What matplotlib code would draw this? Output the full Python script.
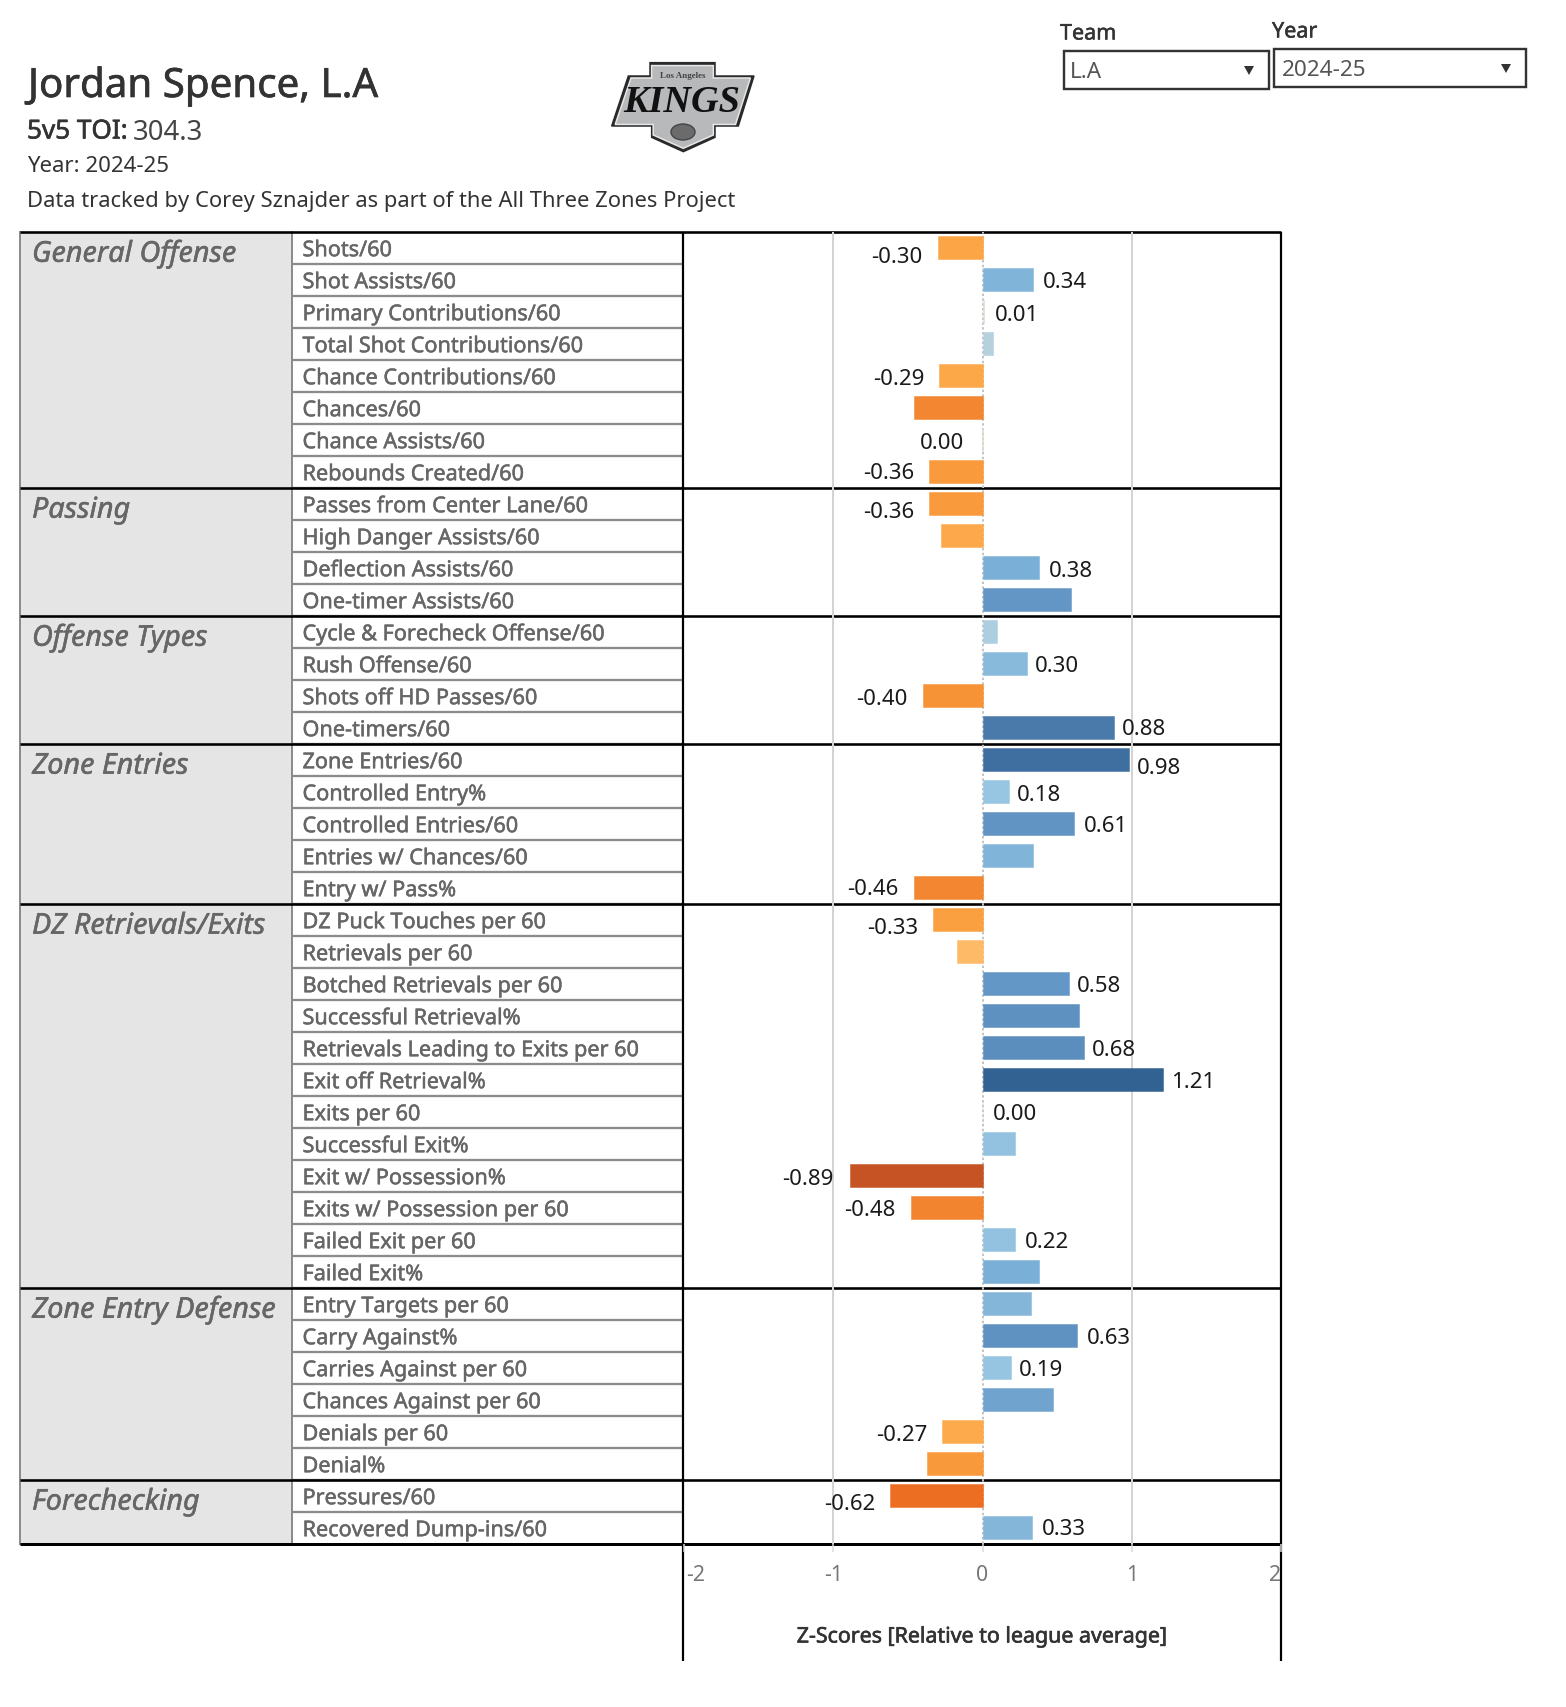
import matplotlib
matplotlib.use("Agg")
import matplotlib.pyplot as plt
import matplotlib.patheffects as pe
from matplotlib.colors import LinearSegmentedColormap, Normalize
from matplotlib.patches import Polygon, Ellipse, Rectangle
from matplotlib.transforms import ScaledTranslation

plt.rcParams['font.family'] = ['Noto Sans', 'DejaVu Sans']

groups = ["General Offense", "Passing", "Offense Types", "Zone Entries",
          "DZ Retrievals/Exits", "Zone Entry Defense", "Forechecking"]
group_sizes = [8, 4, 4, 5, 12, 6, 2]
metrics = [
    "Shots/60", "Shot Assists/60", "Primary Contributions/60", "Total Shot Contributions/60",
    "Chance Contributions/60", "Chances/60", "Chance Assists/60", "Rebounds Created/60",
    "Passes from Center Lane/60", "High Danger Assists/60", "Deflection Assists/60", "One-timer Assists/60",
    "Cycle & Forecheck Offense/60", "Rush Offense/60", "Shots off HD Passes/60", "One-timers/60",
    "Zone Entries/60", "Controlled Entry%", "Controlled Entries/60", "Entries w/ Chances/60", "Entry w/ Pass%",
    "DZ Puck Touches per 60", "Retrievals per 60", "Botched Retrievals per 60", "Successful Retrieval%",
    "Retrievals Leading to Exits per 60", "Exit off Retrieval%", "Exits per 60", "Successful Exit%",
    "Exit w/ Possession%", "Exits w/ Possession per 60", "Failed Exit per 60", "Failed Exit%",
    "Entry Targets per 60", "Carry Against%", "Carries Against per 60", "Chances Against per 60",
    "Denials per 60", "Denial%",
    "Pressures/60", "Recovered Dump-ins/60",
]
values = [
    -0.30, 0.34, 0.01, 0.07, -0.29, -0.46, -0.004, -0.36,
    -0.36, -0.28, 0.38, 0.59,
    0.095, 0.30, -0.40, 0.88,
    0.98, 0.18, 0.61, 0.34, -0.46,
    -0.33, -0.17, 0.58, 0.645, 0.68, 1.21, 0.004, 0.215, -0.89, -0.48, 0.22, 0.38,
    0.325, 0.63, 0.19, 0.47, -0.27, -0.375,
    -0.62, 0.33,
]
value_labels = [
    "-0.30", "0.34", "0.01", None, "-0.29", None, "0.00", "-0.36",
    "-0.36", None, "0.38", None,
    None, "0.30", "-0.40", "0.88",
    "0.98", "0.18", "0.61", None, "-0.46",
    "-0.33", None, "0.58", None, "0.68", "1.21", "0.00", None, "-0.89", "-0.48", "0.22", None,
    None, "0.63", "0.19", None, "-0.27", None,
    "-0.62", "0.33",
]
# label nudges in pixels: vertical (down is positive) and gap to the bar end
label_dy = [
    6, -1, 0, 0, 0, 0, 0, -2,
    5, 0, 0, 0,
    0, -1, 0, -2,
    5, 0, -1, 0, -2,
    5, 0, -1, 0, -1, -1, -1, 0, 0, -1, -1, 0,
    0, -1, -1, 0, 0, 0,
    5, -2,
]
label_gap = [
    15, 10, 11, 0, 15, 0, 18, 15,
    15, 0, 10, 0,
    0, 8, 15, 8,
    8, 8, 10, 0, 15,
    15, 0, 8, 0, 8, 8, 10, 0, 16, 15, 10, 0,
    0, 10, 8, 0, 15, 0,
    15, 10,
]
x_ticks = [-2, -1, 0, 1, 2]
x_tick_labels = ["-2", "-1", "0", "1", "2"]
color_stops = [
    (-1.30, "#A8431A"), (-0.89, "#C65323"), (-0.62, "#EC6F22"), (-0.47, "#F38530"),
    (-0.40, "#F79437"), (-0.30, "#FCA546"), (-0.17, "#FFBA66"), (0.0, "#DEDCD0"),
    (0.07, "#B3D0DF"), (0.18, "#97C6E3"), (0.30, "#88BADB"), (0.38, "#7AAFD7"),
    (0.58, "#6498C7"), (0.68, "#5B8EBD"), (0.88, "#4A7AAA"), (0.98, "#3F6FA0"),
    (1.30, "#2D5D8C"),
]

W, H = 1566, 1708
PX = 72 / 100
TOP, ROW = 232.7, 32
N = len(metrics)
BOTTOM = TOP + ROW * N
L0, L1, L2, L3 = 20, 292, 683, 1281


def heavier(color, amount=0.35):
    return [pe.withStroke(linewidth=amount, foreground=color)]


fig = plt.figure(figsize=(W / 100, H / 100), dpi=100, facecolor="white")
bg = fig.add_axes([0, 0, 1, 1], zorder=1)
bg.set_xlim(0, W)
bg.set_ylim(H, 0)
bg.axis("off")

# table background, rules
bg.add_patch(Rectangle((L0, TOP), L1 - L0, BOTTOM - TOP, fc="#E5E5E5", ec="none"))
TXT = "#666666"
for i, name in enumerate(metrics):
    y = TOP + ROW * i
    bg.text(302.5, y + ROW / 2 + 3, name, fontsize=15.6, color=TXT, va="center", ha="left",
            path_effects=heavier(TXT))
    if i:
        bg.plot([L1, L2], [y, y], color="#8C8C8C", lw=2.3 * PX, solid_capstyle="butt")
bg.plot([L0, L0], [TOP, BOTTOM], color="#8C8C8C", lw=2 * PX)
bg.plot([L1, L1], [TOP, BOTTOM], color="#8C8C8C", lw=2 * PX)

row = 0
for name, size in zip(groups, group_sizes):
    y = TOP + ROW * row
    bg.text(32, y + 22.5, name, fontsize=20.7, style="italic", color=TXT, va="center", ha="left",
            path_effects=heavier(TXT))
    bg.plot([L0, L3], [y, y], color="black", lw=2.6 * PX, solid_capstyle="butt")
    row += size
bg.plot([L0, L3], [BOTTOM, BOTTOM], color="black", lw=3 * PX, solid_capstyle="butt")
bg.plot([L2, L2], [TOP, 1662], color="black", lw=2.2 * PX, solid_capstyle="butt")
bg.plot([L3, L3], [TOP, 1662], color="black", lw=2.2 * PX, solid_capstyle="butt")

# header
DARK = "#333333"
bg.text(28, 88, "Jordan Spence, L.A", fontsize=29, color=DARK, va="center", path_effects=heavier(DARK, 0.45))
bg.text(27, 133, "5v5 TOI:", fontsize=18.8, color=DARK, va="center", path_effects=heavier(DARK, 0.45))
bg.text(133, 133, "304.3", fontsize=19.8, color="#444444", va="center")
bg.text(27, 167, "Year: 2024-25", fontsize=16, color=DARK, va="center")
bg.text(27, 202, "Data tracked by Corey Sznajder as part of the All Three Zones Project",
        fontsize=15.8, color=DARK, va="center")

# filters
bg.text(1060, 35, "Team", fontsize=15.5, color=DARK, va="center", path_effects=heavier(DARK))
bg.text(1272, 33, "Year", fontsize=15.5, color=DARK, va="center", path_effects=heavier(DARK))
for (x0, y0, x1, y1, txt, tx) in [(1064, 52, 1269, 90, "L.A", 1070),
                                  (1274, 50, 1526, 88, "2024-25", 1282)]:
    bg.add_patch(Rectangle((x0, y0), x1 - x0, y1 - y0, fc="white", ec=DARK, lw=2.4 * PX))
    bg.text(tx, (y0 + y1) / 2 + 2, txt, fontsize=16.2, color="#555555", va="center")
    ax_ = x1 - 20
    ym = (y0 + y1) / 2
    bg.add_patch(Polygon([(ax_ - 5, ym - 4), (ax_ + 5, ym - 4), (ax_, ym + 5)], fc=DARK, ec="none"))

# logo
logo_shape = [(150, 38), (345, 38), (345, 78), (462, 78), (415, 228), (345, 228), (345, 262),
              (250, 305), (155, 262), (155, 228), (35, 228), (85, 78), (150, 78)]
logo_px = [(600 + x / 3, 51 + y / 3) for x, y in logo_shape]
cx, cy = 682, 105
logo_in = [(cx + (x - cx) * 0.95, cy + (y - cy) * 0.93) for x, y in logo_px]
bg.add_patch(Polygon(logo_px, fc="#2A2A2A", ec="#2A2A2A", lw=1.5 * PX, joinstyle="miter"))
bg.add_patch(Polygon(logo_in, fc="#B7B9BB", ec="#E8E8E8", lw=1.5 * PX, joinstyle="miter"))
bg.text(682, 103, "KINGS", fontsize=27.5, family=["Liberation Serif"],
        weight="bold", style="italic", color="#111111", ha="center", va="center")
bg.text(683, 76, "Los Angeles", fontsize=6.5, family=["Liberation Serif"], weight="bold",
        color="#444444", ha="center", va="center")
bg.add_patch(Ellipse((683, 133), 24, 16, fc="#6B6B6B", ec="#444444", lw=1))

# bars
ax = fig.add_axes([(L2 + 1) / W, 1 - BOTTOM / H, (L3 - L2 - 1) / W, (BOTTOM - TOP) / H], zorder=2)
ax.patch.set_alpha(0)
ax.set_xlim(-2, 2)
ax.set_ylim(N, 0)
for s in ax.spines.values():
    s.set_visible(False)
ax.set_yticks([])
lo, hi = color_stops[0][0], color_stops[-1][0]
cmap = LinearSegmentedColormap.from_list(
    "zscore", [((v - lo) / (hi - lo), c) for v, c in color_stops])
norm = Normalize(lo, hi)
ypos = [i + 0.5 for i in range(N)]
for t in x_ticks:
    if abs(t) == 1:
        ax.axvline(t, color="#D4D4D4", lw=2 * PX, zorder=1)
ax.axvline(0, color="#C4C4C4", lw=2 * PX, ls=(0, (1.2, 1.2)), zorder=1)
bar_colors = [cmap(norm(v)) for v in values]
ax.barh(ypos, values, height=0.735, color=bar_colors, edgecolor=bar_colors, linewidth=0.5 * PX, zorder=2)
for y, v, lab, dy, gap in zip(ypos, values, value_labels, label_dy, label_gap):
    if lab is None:
        continue
    sign = 1 if v >= 0 else -1
    ax.annotate(lab, (v, y), xytext=(sign * gap * PX, -(dy + 2.5) * PX), textcoords="offset points",
                ha="left" if sign > 0 else "right", va="center", fontsize=16,
                color="#1A1A1A", annotation_clip=False, zorder=4)
ax.set_xticks(x_ticks)
ax.set_xticklabels(x_tick_labels, fontsize=15.3, color="#777777")
ax.tick_params(axis="x", length=8 * PX, width=1.5 * PX, color="#DADADA", pad=9)
tl = ax.get_xticklabels()
tl[0].set_ha("left")
tl[0].set_transform(tl[0].get_transform() + ScaledTranslation(2 / 100, 0, fig.dpi_scale_trans))
tl[-1].set_ha("right")
bg.text((L2 + L3) / 2, 1638, "Z-Scores [Relative to league average]", fontsize=15.4, color=DARK,
        ha="center", va="center", path_effects=heavier(DARK, 0.45))

fig.savefig("out.png", dpi=100, facecolor="white")
